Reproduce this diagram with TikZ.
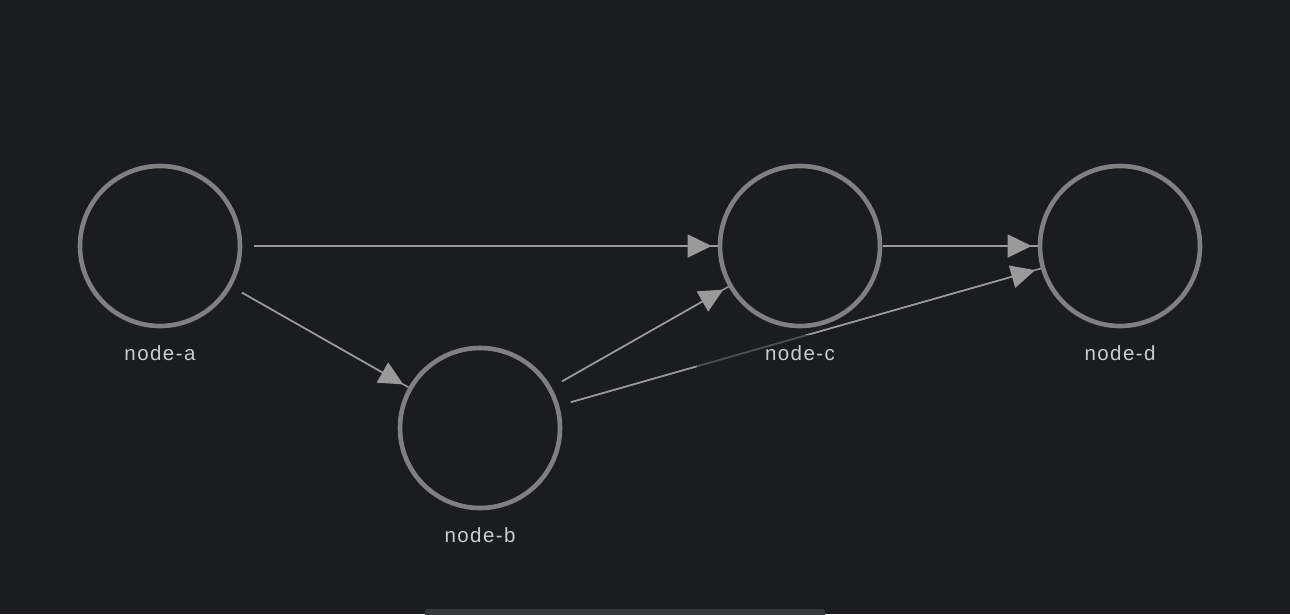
\documentclass[tikz,border=0pt]{standalone}
\usepackage{fontspec}
\setmainfont{Liberation Sans}[LetterSpace=7]
\usetikzlibrary{arrows.meta}
\definecolor{bg}{HTML}{1B1C20}
\definecolor{ring}{HTML}{808080}
\definecolor{wire}{HTML}{9A9A9A}
\definecolor{labeltext}{HTML}{C9CAD6}
\definecolor{scrollbar}{HTML}{38393E}
\tikzset{
  vertex/.style={circle, draw=ring, line width=4.6pt, minimum size=160pt, inner sep=0pt},
  edge/.style={draw=wire, line width=1.5pt, shorten <=12pt,
    postaction={draw=wire, line width=1.5pt, shorten <=12pt, shorten >=6pt,
      -{Triangle[length=24pt, width=23pt, fill=wire]}}},
  shortedge/.style={draw=wire, line width=1.5pt, shorten <=1pt,
    postaction={draw=wire, line width=1.5pt, shorten <=1pt, shorten >=6pt,
      -{Triangle[length=24pt, width=23pt, fill=wire]}}},
  caption/.style={text=labeltext, font=\fontsize{20.5pt}{24pt}\selectfont,
    fill=bg, fill opacity=0.6, text opacity=1, minimum width=206pt,
    minimum height=36pt, inner sep=0pt},
}
\begin{document}
\begin{tikzpicture}[x=1pt, y=-1pt]
  % canvas
  \fill[bg] (0,0) rectangle (1290,614);
  \useasboundingbox (0,0) rectangle (1290,614);
  \fill[scrollbar, rounded corners=3pt] (425,609) rectangle (825,620);

  % graph vertices
  \node[vertex] (a) at (160,246) {};
  \node[vertex] (b) at (480,428) {};
  \node[vertex] (c) at (800,246) {};
  \node[vertex] (d) at (1120,246) {};

  % directed edges
  \draw[edge] (a) -- (c);
  \draw[edge] (a) -- (b);
  \draw[edge] (b) -- (c);
  \draw[edge] (b) -- (d);
  \draw[shortedge] (c) -- (d);

  % vertex captions
  \node[caption] (la) at (160,353) {node-a};
  \node[caption] (lb) at (480,535) {node-b};
  \node[caption] (lc) at (800,353) {node-c};
  \node[caption] (ld) at (1120,353) {node-d};
\end{tikzpicture}
\end{document}
